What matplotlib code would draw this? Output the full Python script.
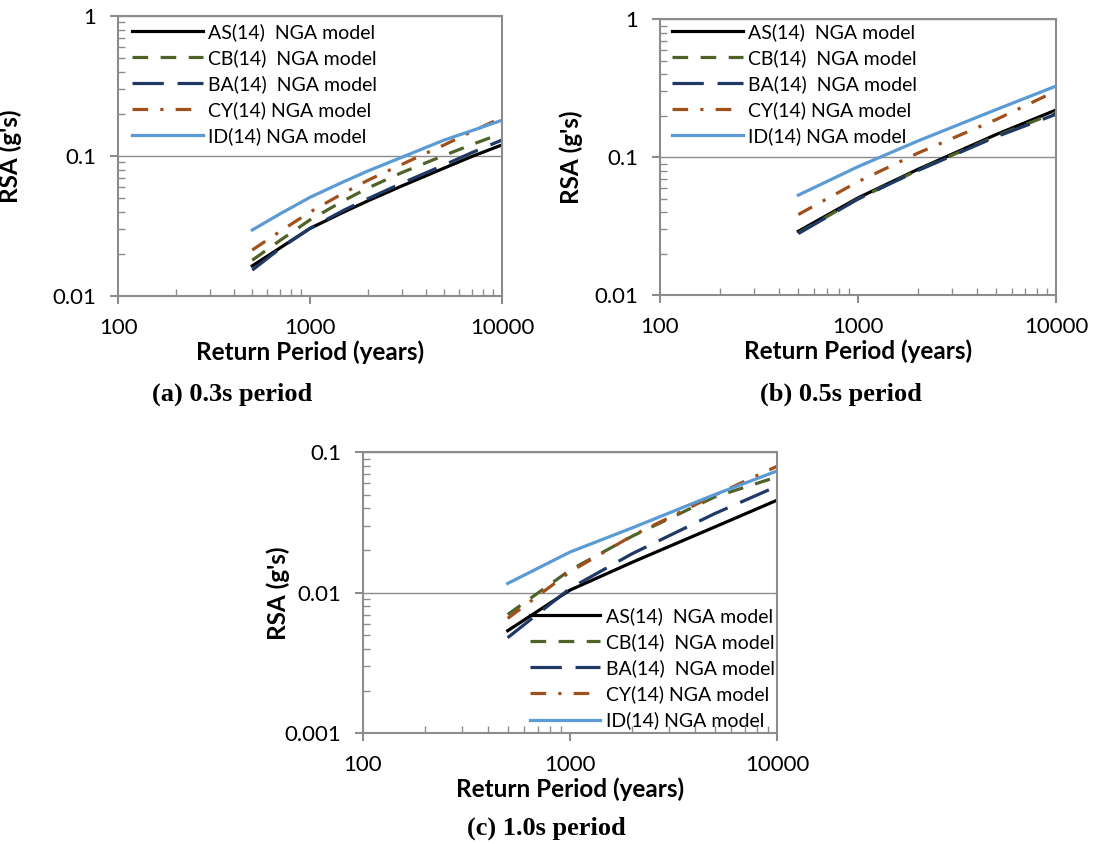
import numpy as np
import matplotlib
matplotlib.use('Agg')
import matplotlib.pyplot as plt
from matplotlib.ticker import LogLocator, FixedLocator, NullFormatter

plt.rcParams['font.family'] = ['Lato', 'DejaVu Sans']

# return periods (years)
periods_a = [500, 700, 1000, 1500, 2000, 3000, 5000, 7000, 10000]
periods = [500, 1000, 2000, 5000, 10000]

labels = ['AS(14)  NGA model', 'CB(14)  NGA model', 'BA(14)  NGA model',
          'CY(14) NGA model', 'ID(14) NGA model']

# (a) 0.3 s
rsa_a = {
    'AS': [0.0164, 0.0221, 0.0304, 0.0398, 0.0478, 0.0610, 0.0820, 0.0995, 0.120],
    'CB': [0.0180, 0.0250, 0.0350, 0.0480, 0.0590, 0.0760, 0.1010, 0.121, 0.145],
    'BA': [0.0153, 0.0219, 0.0304, 0.0410, 0.0495, 0.0638, 0.0863, 0.106, 0.130],
    'CY': [0.0213, 0.0290, 0.0398, 0.0545, 0.0670, 0.0870, 0.120, 0.150, 0.188],
    'ID': [0.0296, 0.0387, 0.0507, 0.0656, 0.0781, 0.0978, 0.130, 0.152, 0.180],
}
# (b) 0.5 s
rsa_b = {
    'AS': [0.0291, 0.0508, 0.0816, 0.1465, 0.220],
    'CB': [0.0283, 0.0500, 0.0805, 0.143, 0.211],
    'BA': [0.0280, 0.0498, 0.0800, 0.141, 0.205],
    'CY': [0.0385, 0.0665, 0.107, 0.188, 0.302],
    'ID': [0.0532, 0.0855, 0.131, 0.222, 0.328],
}
# (c) 1.0 s
rsa_c = {
    'AS': [0.00537, 0.01045, 0.0165, 0.0294, 0.0456],
    'CB': [0.0070, 0.0145, 0.0253, 0.0481, 0.0668],
    'BA': [0.00479, 0.01074, 0.0190, 0.0366, 0.0573],
    'CY': [0.00657, 0.0141, 0.0255, 0.0495, 0.0795],
    'ID': [0.01165, 0.0195, 0.0290, 0.0500, 0.0736],
}

keys = ['AS', 'CB', 'BA', 'CY', 'ID']
colors = {'AS': '#000000', 'CB': '#4F6228', 'BA': '#1F3864',
          'CY': '#A0501A', 'ID': '#5B9BD5'}
dashes = {'AS': None, 'CB': (4.9, 3.9), 'BA': (9.8, 4.3),
          'CY': (4.9, 3.8, 1.0, 3.8), 'ID': None}

grey = '#8C8C8C'


def draw_panel(ax, x, data, ylim, ylabel_x, legend_loc, legend_anchor):
    for k, lab in zip(keys, labels):
        line, = ax.plot(x, data[k], color=colors[k], lw=2.3, label=lab)
        if dashes[k] is not None:
            line.set_dashes(dashes[k])
    ax.set_xscale('log')
    ax.set_yscale('log')
    ax.set_xlim(100, 10000)
    ax.set_ylim(*ylim)
    for s in ax.spines.values():
        s.set_color(grey)
        s.set_linewidth(1.5)
    ax.grid(True, which='major', axis='y', color=grey, lw=1.0)
    ax.xaxis.set_major_locator(FixedLocator([100, 1000, 10000]))
    ax.xaxis.set_major_formatter(plt.FuncFormatter(lambda v, p: '%d' % v))
    ax.xaxis.set_minor_locator(LogLocator(base=10, subs=np.arange(2, 10)))
    ax.xaxis.set_minor_formatter(NullFormatter())
    yt = [ylim[0], ylim[0] * 10, ylim[0] * 100]
    ax.yaxis.set_major_locator(FixedLocator(yt))
    ax.yaxis.set_major_formatter(plt.FuncFormatter(lambda v, p: ('%g' % v)))
    ax.yaxis.set_minor_locator(LogLocator(base=10, subs=np.arange(2, 10)))
    ax.yaxis.set_minor_formatter(NullFormatter())
    ax.tick_params(which='major', direction='out', length=5.5, width=1.5,
                   color=grey, labelsize=16, pad=10)
    ax.tick_params(which='minor', direction='in', length=5, width=1.0,
                   color=grey)
    ax.set_xlabel('Return Period (years)', fontsize=17.5, fontweight='bold',
                  labelpad=2)
    ax.set_ylabel("RSA (g's)", fontsize=17.5, fontweight='bold')
    ax.yaxis.set_label_coords(ylabel_x, 0.5)
    ax.legend(loc=legend_loc, bbox_to_anchor=legend_anchor, frameon=False,
              fontsize=14, handlelength=3.65, handletextpad=0.28,
              labelspacing=0.42, borderpad=0, borderaxespad=0)


fig = plt.figure(figsize=(10.95, 8.44), dpi=100)
ax1 = fig.add_axes([0.1078, 0.6493, 0.3507, 0.3318])
ax2 = fig.add_axes([0.6027, 0.6501, 0.3616, 0.3270])
ax3 = fig.add_axes([0.3315, 0.1312, 0.3781, 0.3329])

draw_panel(ax1, periods_a, rsa_a, (0.01, 1), -0.25, 'upper left', (0.036, 0.975))
draw_panel(ax2, periods, rsa_b, (0.01, 1), -0.194, 'upper left', (0.030, 0.9875))
draw_panel(ax3, periods, rsa_c, (0.001, 0.1), -0.176, 'lower right', (0.995, 0.014))

cap = dict(fontsize=19, fontweight='bold', family='Liberation Serif',
           ha='center', va='center')
fig.text(232 / 1095, 1 - 394 / 844, '(a) 0.3s period', **cap)
fig.text(841 / 1095, 1 - 394 / 844, '(b) 0.5s period', **cap)
fig.text(546 / 1095, 1 - 828 / 844, '(c) 1.0s period', **cap)

fig.savefig('out.png', dpi=100)
